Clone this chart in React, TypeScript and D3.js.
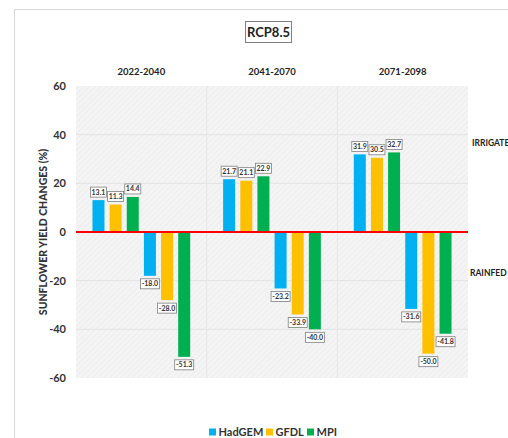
import React, { useEffect, useRef } from 'react';
import * as d3 from 'd3';

const periods = ['2022-2040', '2041-2070', '2071-2098'];
const models = ['HadGEM', 'GFDL', 'MPI'];
const modelColors = ['#00b0f0', '#ffc000', '#00b050'];
const irrigated = [
  [13.1, 11.3, 14.4],
  [21.7, 21.1, 22.9],
  [31.9, 30.5, 32.7],
];
const rainfed = [
  [-18.0, -28.0, -51.3],
  [-23.2, -33.9, -40.0],
  [-31.6, -50.0, -41.8],
];
const yTicks = [60, 40, 20, 0, -20, -40, -60];

const FONT = 'Lato, "Open Sans", sans-serif';
const TEXT = '#333';

export default function App() {
  const svgRef = useRef<SVGSVGElement>(null);

  useEffect(() => {
    if (!svgRef.current) return;
    const svg = d3.select(svgRef.current);
    svg.selectAll('*').remove();

    const plot = { left: 76, right: 468, top: 86, bottom: 378 };

    // outer chart frame
    svg.append('rect')
      .attr('x', 14.5).attr('y', 9.5)
      .attr('width', 520).attr('height', 460)
      .attr('fill', '#fff')
      .attr('stroke', '#d9d9d9');

    // hatched background
    const defs = svg.append('defs');
    const pat = defs.append('pattern')
      .attr('id', 'hatch')
      .attr('patternUnits', 'userSpaceOnUse')
      .attr('width', 4).attr('height', 4)
      .attr('patternTransform', 'rotate(45)');
    pat.append('rect').attr('width', 4).attr('height', 4).attr('fill', '#f4f4f4');
    pat.append('line')
      .attr('x1', 0).attr('y1', 0).attr('x2', 0).attr('y2', 4)
      .attr('stroke', '#e9e9e9').attr('stroke-width', 1.2);

    const y = d3.scaleLinear().domain([-60, 60]).range([plot.bottom, plot.top]);
    const xPeriod = d3.scaleBand<string>()
      .domain(periods)
      .range([plot.left, plot.right]);

    const slots = d3.range(6).map(String);
    const xSlot = d3.scaleBand<string>()
      .domain(slots)
      .range([0, xPeriod.bandwidth()])
      .paddingInner(0.3)
      .paddingOuter(0.96);

    svg.append('rect')
      .attr('x', plot.left).attr('y', plot.top)
      .attr('width', plot.right - plot.left)
      .attr('height', plot.bottom - plot.top)
      .attr('fill', 'url(#hatch)');

    // gridlines
    svg.append('g')
      .selectAll('line')
      .data(yTicks.filter(t => t !== 0 && Math.abs(t) !== 60))
      .enter().append('line')
      .attr('x1', plot.left).attr('x2', plot.right)
      .attr('y1', d => y(d)).attr('y2', d => y(d))
      .attr('stroke', '#e2e2e2').attr('stroke-width', 1);

    // panel dividers
    svg.append('g')
      .selectAll('line')
      .data(periods.slice(1))
      .enter().append('line')
      .attr('x1', d => xPeriod(d)!).attr('x2', d => xPeriod(d)!)
      .attr('y1', plot.top).attr('y2', plot.bottom)
      .attr('stroke', '#e6e6e6');

    // y axis labels
    svg.append('g')
      .selectAll('text')
      .data(yTicks)
      .enter().append('text')
      .attr('x', 66)
      .attr('y', d => y(d))
      .attr('dy', '0.35em')
      .attr('text-anchor', 'end')
      .attr('font-family', FONT)
      .attr('font-weight', 'bold')
      .attr('font-size', 11)
      .attr('fill', TEXT)
      .text(d => d);

    svg.append('text')
      .attr('transform', `translate(47,${y(0)}) rotate(-90)`)
      .attr('text-anchor', 'middle')
      .attr('font-family', FONT)
      .attr('font-weight', 900)
      .attr('font-size', 10.5)
      .attr('fill', TEXT)
      .text('SUNFLOWER YIELD CHANGES (%)');

    // period headers
    svg.append('g')
      .selectAll('text')
      .data(periods)
      .enter().append('text')
      .attr('x', d => xPeriod(d)! + xPeriod.bandwidth() / 2)
      .attr('y', 75)
      .attr('text-anchor', 'middle')
      .attr('font-family', FONT)
      .attr('font-weight', 'bold')
      .attr('font-size', 9.5)
      .attr('fill', '#222')
      .text(d => d);

    // title
    const title = svg.append('g');
    title.append('rect')
      .attr('x', 245.5).attr('y', 21.5).attr('width', 46).attr('height', 21)
      .attr('fill', '#fff').attr('stroke', '#7f7f7f');
    title.append('text')
      .attr('x', 268.5).attr('y', 36.5)
      .attr('text-anchor', 'middle')
      .attr('font-family', FONT)
      .attr('font-weight', 'bold')
      .attr('font-size', 13)
      .attr('fill', '#222')
      .text('RCP8.5');

    // bars
    type Bar = { period: string; slot: number; model: number; value: number };
    const bars: Bar[] = [];
    periods.forEach((p, pi) => {
      models.forEach((_, mi) => {
        bars.push({ period: p, slot: mi, model: mi, value: irrigated[pi][mi] });
        bars.push({ period: p, slot: mi + 3, model: mi, value: rainfed[pi][mi] });
      });
    });
    const barX = (d: Bar) => xPeriod(d.period)! + xSlot(String(d.slot))!;

    svg.append('g')
      .selectAll('rect')
      .data(bars)
      .enter().append('rect')
      .attr('x', barX)
      .attr('width', xSlot.bandwidth())
      .attr('y', d => y(Math.max(0, d.value)))
      .attr('height', d => Math.abs(y(d.value) - y(0)))
      .attr('fill', d => modelColors[d.model]);

    // zero line
    svg.append('line')
      .attr('x1', plot.left).attr('x2', plot.right)
      .attr('y1', y(0)).attr('y2', y(0))
      .attr('stroke', '#ff0000').attr('stroke-width', 2);

    // value labels
    const lab = svg.append('g')
      .selectAll('g')
      .data(bars)
      .enter().append('g')
      .attr('transform', d => {
        const cx = barX(d) + xSlot.bandwidth() / 2;
        const cy = d.value >= 0 ? y(d.value) - 8 : y(d.value) + 8;
        return `translate(${cx},${cy})`;
      });
    lab.append('rect')
      .attr('x', d => (d.value >= 0 ? -8 : -9.5))
      .attr('y', -5)
      .attr('width', d => (d.value >= 0 ? 16 : 19))
      .attr('height', 10)
      .attr('fill', '#fff')
      .attr('stroke', '#7f7f7f')
      .attr('stroke-width', 0.8);
    lab.append('text')
      .attr('text-anchor', 'middle')
      .attr('dy', '0.35em')
      .attr('font-family', FONT)
      .attr('font-weight', 'bold')
      .attr('font-size', 7)
      .attr('fill', TEXT)
      .text(d => d.value.toFixed(1));

    // side labels
    svg.append('text')
      .attr('x', 472).attr('y', 146)
      .attr('font-family', FONT).attr('font-weight', 'bold')
      .attr('font-size', 8.5).attr('fill', '#222')
      .text('IRRIGATED');
    svg.append('text')
      .attr('x', 470).attr('y', 276)
      .attr('font-family', FONT).attr('font-weight', 'bold')
      .attr('font-size', 8.5).attr('fill', '#222')
      .text('RAINFED');

    // legend
    const legendX = [209, 266, 307];
    const leg = svg.append('g')
      .selectAll('g')
      .data(models)
      .enter().append('g')
      .attr('transform', (_, i) => `translate(${legendX[i]},432)`);
    leg.append('rect')
      .attr('x', 0).attr('y', -3.5)
      .attr('width', 7).attr('height', 7)
      .attr('fill', (_, i) => modelColors[i]);
    leg.append('text')
      .attr('x', 9.5)
      .attr('dy', '0.35em')
      .attr('font-family', FONT)
      .attr('font-weight', 'bold')
      .attr('font-size', 11)
      .attr('fill', TEXT)
      .text(d => d);
  }, []);

  return (
    <svg
      ref={svgRef}
      width={508}
      height={438}
      style={{ position: 'absolute', left: 0, top: 0, display: 'block', background: '#fff' }}
    />
  );
}
